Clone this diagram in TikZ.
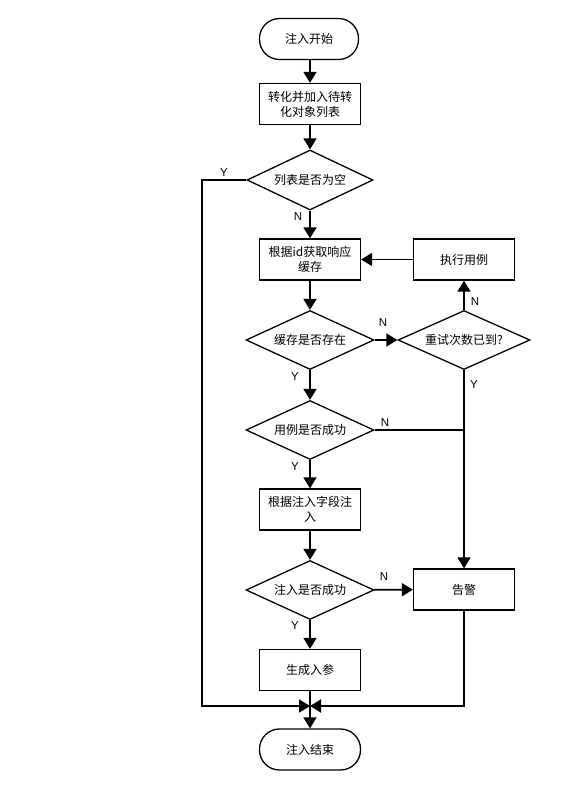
\documentclass[tikz,border=0pt]{standalone}
\usepackage{fontspec}
\newfontfamily\cjk{Noto Sans CJK SC}
\newfontfamily\lat{Liberation Sans}
\usetikzlibrary{shapes.geometric,arrows.meta}
\begin{document}
\begin{tikzpicture}[x=1pt,y=-1pt,
  txt/.style={font=\cjk\fontsize{12}{15}\selectfont},
  box/.style={txt,draw,line width=1.3pt,minimum width=101pt,minimum height=41pt,inner sep=2pt,align=center,text width=92pt},
  term/.style={txt,draw,line width=1.3pt,rounded corners=20pt,minimum width=99pt,minimum height=41pt},
  dia/.style={txt,draw,diamond,line width=1.3pt,aspect=2.17,inner sep=0pt,minimum width=128pt,minimum height=59pt},
  arr/.style={line width=1.8pt,-{Triangle[length=11pt,width=13pt]}},
  ln/.style={line width=1.8pt},
  lab/.style={font=\lat\fontsize{11.5}{13}\selectfont}]
\useasboundingbox (0,0) rectangle (567,790);
\node[term] (start) at (309,39) {注入开始};
\node[box] (b1) at (310,104) {转化并加入待转\\化对象列表};
\node[dia,minimum width=126pt,minimum height=60pt] (d1) at (310,180) {列表是否为空};
\node[box] (b2) at (310,259.5) {根据id获取响应\\缓存};
\node[box] (exec) at (464,259.5) {执行用例};
\node[dia] (d2) at (310,340) {缓存是否存在};
\node[dia,minimum width=132pt] (d3) at (464,340) {重试次数已到?};
\node[dia] (d4) at (310,430) {用例是否成功};
\node[box] (b3) at (310,509.5) {根据注入字段注\\入};
\node[dia] (d5) at (310,590) {注入是否成功};
\node[box] (alarm) at (464,589.5) {告警};
\node[box] (b4) at (310,670) {生成入参};
\node[term,minimum width=101pt] (end) at (310,749.5) {注入结束};
\coordinate (m) at (310,706);
\coordinate (lc) at (202,706);
\coordinate (rj) at (464,430);

\draw[arr] (start.south -| b1.north) -- (b1);
\draw[arr] (b1) -- (d1);
\draw[arr] (d1) -- (b2);
\draw[arr] (b2) -- (d2);
\draw[arr] (d2) -- (d3);
\draw[arr] (d3) -- (exec);
\draw[arr] (exec) -- (b2);
\draw[arr] (d2) -- (d4);
\draw[arr] (d4) -- (b3);
\draw[arr] (b3) -- (d5);
\draw[arr] (d5) -- (alarm);
\draw[arr] (d5) -- (b4);
\draw[ln] (d4.east) -- (rj);
\draw[arr] (d3.south) -- (alarm.north);
\draw[arr] (d1.west) -| (lc) -- (m);
\draw[arr] (alarm.south) |- (m);
\draw[arr] (b4) -- (end);

\node[lab] (l1) at (224,173) {Y};
\node[lab] (l2) at (298,217) {N};
\node[lab] (l3) at (383,323) {N};
\node[lab] (l4) at (475,302) {N};
\node[lab] (l5) at (295,377) {Y};
\node[lab] (l6) at (474,385) {Y};
\node[lab] (l7) at (385,423) {N};
\node[lab] (l8) at (295,467) {Y};
\node[lab] (l9) at (384,577) {N};
\node[lab] (l10) at (295,626) {Y};
\end{tikzpicture}
\end{document}
